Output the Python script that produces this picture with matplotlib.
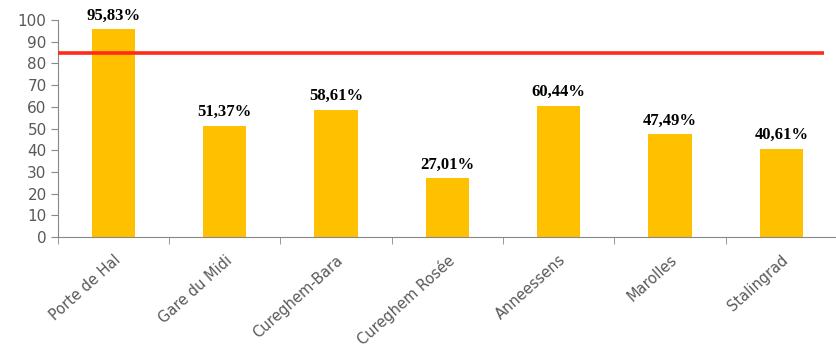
import numpy as np
import matplotlib
matplotlib.use("Agg")
from matplotlib import pyplot as plt

stations = ["Porte de Hal", "Gare du Midi", "Cureghem-Bara", "Cureghem Rosée",
            "Anneessens", "Marolles", "Stalingrad"]
rates = [95.83, 51.37, 58.61, 27.01, 60.44, 47.49, 40.61]
labels = ["95,83%", "51,37%", "58,61%", "27,01%", "60,44%", "47,49%", "40,61%"]
threshold = 85
yticks = [0, 10, 20, 30, 40, 50, 60, 70, 80, 90, 100]

fig = plt.figure(figsize=(8.37, 3.56), dpi=100)
ax = fig.add_axes([0.069, 0.334, 0.931, 0.61])

x = np.arange(len(stations))
ax.bar(x, rates, width=0.39, color="#FFC000", zorder=2)
ax.plot([-0.5, 6.38], [threshold, threshold], color="#FF2A1A", lw=2.6, zorder=3, solid_capstyle="butt")

for xi, r, lab in zip(x, rates, labels):
    ax.annotate(lab, (xi, r), xytext=(0, 4), textcoords="offset points",
                ha="center", va="bottom", fontsize=12, fontweight="bold",
                family="Liberation Serif", color="black")

ax.set_xlim(-0.5, 6.5)
ax.set_ylim(0, 100)
ax.set_yticks(yticks)
ax.tick_params(axis="y", labelsize=11, labelcolor="#595959", color="#888888", length=5, pad=3)
for t in ax.get_yticklabels():
    t.set_family("DejaVu Sans")

ax.set_xticks(x)
ax.set_xticklabels(stations, rotation=42, ha="right", rotation_mode="anchor",
                   fontsize=10.5, color="#595959", family="DejaVu Sans")
ax.tick_params(axis="x", length=0, pad=11)
ax.set_xticks(np.arange(-0.5, 7, 1), minor=True)
ax.tick_params(axis="x", which="minor", length=5, color="#888888")

for s in ["top", "right"]:
    ax.spines[s].set_visible(False)
ax.spines["left"].set_color("#888888")
ax.spines["bottom"].set_color("#888888")

fig.savefig("out.png", dpi=100)
